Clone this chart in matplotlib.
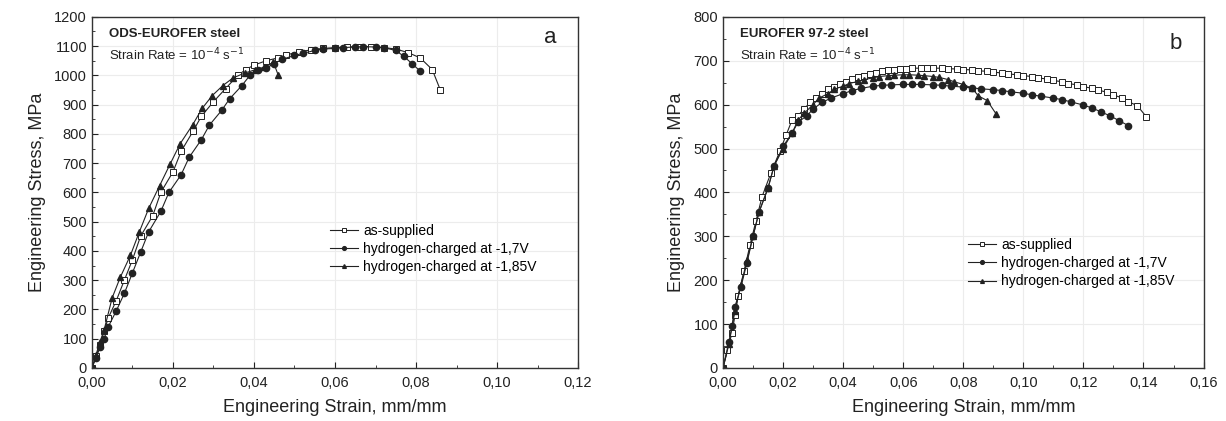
import matplotlib
matplotlib.use("Agg")
import matplotlib.pyplot as plt
from matplotlib.ticker import FuncFormatter, MultipleLocator

plt.rcParams['font.family'] = ['Liberation Sans', 'DejaVu Sans']

# ---- panel a: ODS-EUROFER ----
a_sup_x = [0.0, 0.001, 0.002, 0.003, 0.004, 0.006, 0.008, 0.010, 0.012, 0.015, 0.017, 0.020, 0.022,
           0.025, 0.027, 0.030, 0.033, 0.036, 0.038, 0.040, 0.043, 0.046, 0.048, 0.051, 0.054, 0.057,
           0.060, 0.063, 0.066, 0.069, 0.072, 0.075, 0.078, 0.081, 0.084, 0.086]
a_sup_y = [0, 40, 80, 125, 170, 230, 300, 370, 450, 520, 600, 670, 740,
           810, 860, 910, 955, 1000, 1020, 1035, 1050, 1060, 1070, 1080, 1087, 1092,
           1095, 1097, 1098, 1098, 1095, 1090, 1078, 1060, 1020, 950]

a_h17_x = [0.0, 0.001, 0.002, 0.003, 0.004, 0.006, 0.008, 0.010, 0.012, 0.014, 0.017, 0.019, 0.022,
           0.024, 0.027, 0.029, 0.032, 0.034, 0.037, 0.039, 0.041, 0.043, 0.045, 0.047, 0.050, 0.052,
           0.055, 0.057, 0.060, 0.062, 0.065, 0.067, 0.070, 0.072, 0.075, 0.077, 0.079, 0.081]
a_h17_y = [0, 35, 70, 100, 140, 195, 255, 325, 395, 465, 535, 600, 660,
           720, 780, 830, 880, 920, 965, 1000, 1020, 1025, 1040, 1055, 1068, 1075,
           1085, 1090, 1092, 1095, 1097, 1098, 1097, 1095, 1085, 1065, 1040, 1015]

a_h185_x = [0.0, 0.001, 0.002, 0.003, 0.005, 0.007, 0.0095, 0.0117, 0.014, 0.0167, 0.0193, 0.0218,
            0.0249, 0.0272, 0.0297, 0.0323, 0.0348, 0.0377, 0.0403, 0.0425, 0.0448, 0.046]
a_h185_y = [0, 45, 90, 130, 240, 310, 385, 465, 545, 623, 697, 767,
            832, 887, 931, 965, 991, 1008, 1019, 1028, 1045, 1000]

# ---- panel b: EUROFER 97-2 ----
b_sup_x = [0.0, 0.0015, 0.003, 0.004, 0.005, 0.007, 0.009, 0.011, 0.013, 0.016, 0.019, 0.021, 0.023,
           0.025, 0.027, 0.029, 0.031, 0.033, 0.035, 0.037, 0.039, 0.041, 0.043, 0.045, 0.047, 0.049,
           0.051, 0.053, 0.055, 0.057, 0.059, 0.061, 0.063, 0.066, 0.068, 0.070, 0.073, 0.075, 0.078,
           0.080, 0.083, 0.085, 0.088, 0.090, 0.093, 0.095, 0.098, 0.100, 0.103, 0.105, 0.108, 0.110,
           0.113, 0.115, 0.118, 0.120, 0.123, 0.125, 0.128, 0.130, 0.133, 0.135, 0.138, 0.141]
b_sup_y = [0, 40, 80, 120, 165, 220, 280, 335, 390, 445, 495, 530, 565,
           575, 590, 605, 615, 625, 635, 640, 648, 652, 658, 662, 666, 670,
           673, 676, 678, 680, 681, 682, 683, 683, 683, 683, 683, 682, 681,
           680, 679, 677, 676, 674, 672, 670, 668, 666, 664, 661, 658, 655,
           652, 648, 645, 641, 637, 633, 628, 622, 615, 607, 597, 572]

b_h17_x = [0.0, 0.002, 0.003, 0.004, 0.006, 0.008, 0.010, 0.012, 0.015, 0.017, 0.020, 0.023, 0.025,
           0.028, 0.030, 0.033, 0.036, 0.040, 0.043, 0.046, 0.050, 0.053, 0.056, 0.060, 0.063, 0.066,
           0.070, 0.073, 0.076, 0.080, 0.083, 0.086, 0.090, 0.093, 0.096, 0.100, 0.103, 0.106, 0.110,
           0.113, 0.116, 0.120, 0.123, 0.126, 0.129, 0.132, 0.135]
b_h17_y = [0, 60, 95, 140, 185, 240, 300, 355, 410, 460, 505, 535, 560,
           575, 590, 605, 615, 625, 632, 637, 642, 644, 645, 646, 646, 646,
           645, 644, 642, 640, 638, 636, 634, 632, 629, 626, 622, 619, 615,
           611, 606, 599, 592, 583, 574, 563, 552]

b_h185_x = [0.0, 0.002, 0.004, 0.006, 0.008, 0.010, 0.012, 0.015, 0.017, 0.020, 0.023, 0.025,
            0.027, 0.030, 0.032, 0.035, 0.037, 0.040, 0.042, 0.045, 0.047, 0.050, 0.052, 0.055,
            0.057, 0.060, 0.062, 0.065, 0.067, 0.070, 0.072, 0.075, 0.077, 0.080, 0.083, 0.085,
            0.088, 0.091]
b_h185_y = [0, 55, 130, 190, 245, 300, 355, 410, 460, 500, 535, 565,
            580, 600, 615, 625, 635, 642, 648, 653, 657, 661, 664, 666,
            667, 668, 668, 667, 666, 664, 662, 657, 652, 646, 637, 620,
            609, 578]

labels = ['as-supplied', 'hydrogen-charged at -1,7V', 'hydrogen-charged at -1,85V']


def comma(v, pos):
    return f"{v:.2f}".replace('.', ',')


def style_axis(ax, xmax, xstep, ymax, ystep):
    ax.set_xlim(0, xmax)
    ax.set_ylim(0, ymax)
    ax.xaxis.set_major_locator(MultipleLocator(xstep))
    ax.xaxis.set_minor_locator(MultipleLocator(xstep / 2))
    ax.yaxis.set_major_locator(MultipleLocator(ystep))
    ax.yaxis.set_minor_locator(MultipleLocator(ystep / 2))
    ax.xaxis.set_major_formatter(FuncFormatter(comma))
    ax.tick_params(which='both', direction='in', labelsize=10.5, colors='#222222')
    ax.tick_params(which='major', length=4)
    ax.tick_params(which='minor', length=2)
    ax.tick_params(axis='x', pad=6)
    ax.grid(True, color='#ececec', linewidth=0.8)
    ax.set_axisbelow(True)
    for s in ax.spines.values():
        s.set_color('#333333')
        s.set_linewidth(1.0)
    ax.set_xlabel('Engineering Strain, mm/mm', fontsize=13, color='#222222', labelpad=6)
    ax.set_ylabel('Engineering Stress, MPa', fontsize=13, color='#222222', labelpad=6)


def draw(ax, sx, sy, cx, cy, tx, ty):
    kw = dict(color='#222222', linewidth=0.8, markersize=4.5)
    ax.plot(sx, sy, marker='s', markerfacecolor='white', markeredgewidth=0.7, label=labels[0], **kw)
    ax.plot(cx, cy, marker='o', label=labels[1], **kw)
    ax.plot(tx, ty, marker='^', label=labels[2], **kw)


fig = plt.figure(figsize=(12.26, 4.21), dpi=100)
ax1 = fig.add_axes([0.075, 0.126, 0.3965, 0.834])
ax2 = fig.add_axes([0.5897, 0.126, 0.392, 0.834])

draw(ax1, a_sup_x, a_sup_y, a_h17_x, a_h17_y, a_h185_x, a_h185_y)
style_axis(ax1, 0.12, 0.02, 1200, 100)
ax1.text(0.035, 0.968, 'ODS-EUROFER steel', transform=ax1.transAxes, fontsize=9.5,
         fontweight='bold', va='top', color='#222222')
ax1.text(0.035, 0.915, r'Strain Rate = 10$^{-4}$ s$^{-1}$', transform=ax1.transAxes, fontsize=9.5,
         va='top', color='#222222')
ax1.text(0.955, 0.972, 'a', transform=ax1.transAxes, fontsize=16, va='top', ha='right', color='#222222')
ax1.legend(loc='upper left', bbox_to_anchor=(0.49, 0.41), frameon=False, fontsize=10,
           handlelength=2.0, handletextpad=0.4, labelspacing=0.3, borderaxespad=0, borderpad=0,
           markerscale=0.6)

draw(ax2, b_sup_x, b_sup_y, b_h17_x, b_h17_y, b_h185_x, b_h185_y)
style_axis(ax2, 0.16, 0.02, 800, 100)
ax2.text(0.035, 0.968, 'EUROFER 97-2 steel', transform=ax2.transAxes, fontsize=9.5,
         fontweight='bold', va='top', color='#222222')
ax2.text(0.035, 0.915, r'Strain Rate = 10$^{-4}$ s$^{-1}$', transform=ax2.transAxes, fontsize=9.5,
         va='top', color='#222222')
ax2.text(0.955, 0.955, 'b', transform=ax2.transAxes, fontsize=16, va='top', ha='right', color='#222222')
ax2.legend(loc='upper left', bbox_to_anchor=(0.51, 0.37), frameon=False, fontsize=10,
           handlelength=2.0, handletextpad=0.4, labelspacing=0.3, borderaxespad=0, borderpad=0,
           markerscale=0.6)

fig.savefig('out.png', dpi=100)
